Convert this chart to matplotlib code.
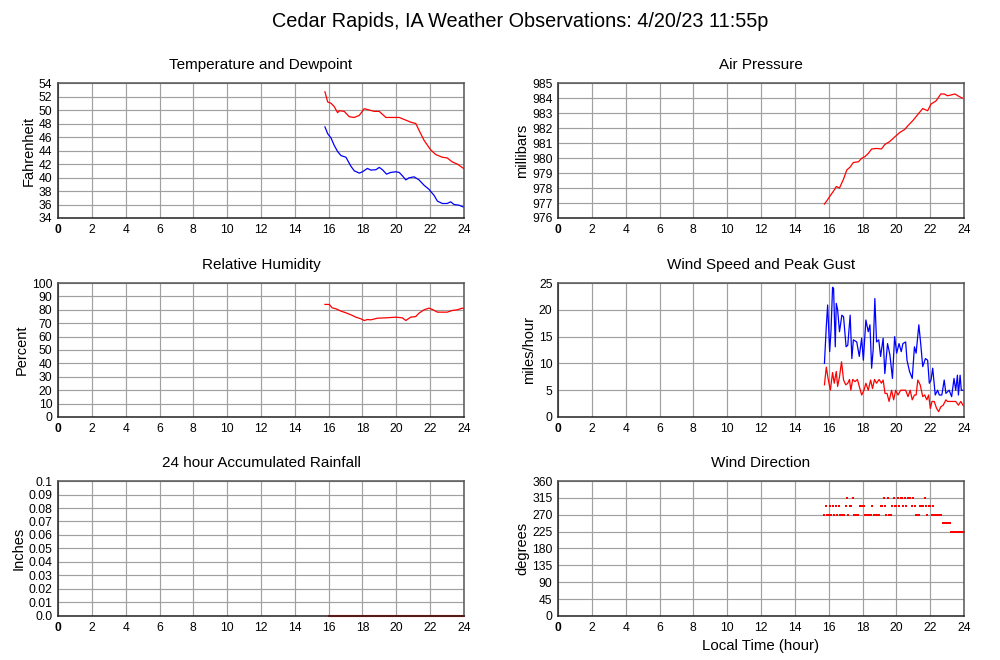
import numpy as np
import matplotlib
matplotlib.use("Agg")
import matplotlib.pyplot as plt

plt.rcParams['font.family'] = ['Liberation Sans', 'DejaVu Sans']

# ---------------- data ----------------
temp_hours = [15.78, 15.94, 16.14, 16.33, 16.53, 16.63, 16.92, 17.22, 17.51, 17.81, 18.10, 18.40,
              18.69, 18.99, 19.38, 19.77, 20.17, 20.56, 20.85, 21.15, 21.34, 21.64, 22.03, 22.33,
              22.72, 23.01, 23.31, 23.60, 24.0]
temp_f = [52.7, 51.2, 51.0, 50.5, 49.6, 49.9, 49.8, 49.0, 48.9, 49.2, 50.2, 50.0,
          49.8, 49.8, 48.9, 48.9, 48.9, 48.5, 48.2, 48.0, 47.0, 45.5, 44.1, 43.4,
          43.0, 42.9, 42.3, 42.0, 41.3]

dew_hours = [15.78, 15.94, 16.14, 16.33, 16.53, 16.73, 17.02, 17.32, 17.51, 17.81, 18.00, 18.29,
             18.49, 18.79, 18.99, 19.18, 19.42, 19.67, 19.97, 20.17, 20.36, 20.56, 20.75, 21.05,
             21.34, 21.64, 21.93, 22.23, 22.43, 22.72, 23.01, 23.21, 23.41, 23.70, 24.0]
dew_f = [47.5, 46.5, 45.85, 44.75, 43.85, 43.25, 43.0, 41.65, 41.0, 40.65, 40.85, 41.35,
         41.1, 41.15, 41.5, 41.15, 40.5, 40.75, 40.85, 40.75, 40.25, 39.65, 39.95, 40.1,
         39.65, 38.85, 38.25, 37.35, 36.5, 36.15, 36.15, 36.4, 36.0, 35.9, 35.6]

pres_hours = [15.75, 15.90, 16.10, 16.29, 16.45, 16.64, 16.88, 17.07, 17.27, 17.46, 17.76, 17.95,
              18.15, 18.34, 18.54, 18.83, 19.12, 19.32, 19.61, 19.90, 20.20, 20.49, 20.68, 20.98,
              21.27, 21.56, 21.85, 22.05, 22.34, 22.63, 22.83, 23.02, 23.22, 23.47, 23.71, 23.90]
pres_mb = [976.93, 977.16, 977.5, 977.8, 978.1, 978.0, 978.6, 979.2, 979.4, 979.7, 979.75, 979.98,
           980.1, 980.3, 980.6, 980.64, 980.6, 980.9, 981.1, 981.4, 981.7, 981.9, 982.15, 982.5,
           982.9, 983.3, 983.15, 983.6, 983.8, 984.27, 984.27, 984.15, 984.2, 984.27, 984.1, 984.0]

rh_hours = [15.78, 16.04, 16.20, 16.43, 16.73, 17.02, 17.32, 17.61, 17.91, 18.10, 18.29, 18.49,
            18.89, 19.38, 19.97, 20.36, 20.56, 20.85, 21.15, 21.34, 21.64, 21.93, 22.13, 22.43,
            22.72, 23.01, 23.31, 23.60, 23.90, 24.0]
rh_pct = [84, 84, 81.5, 80.75, 79, 77.75, 76.25, 74.5, 73.25, 72, 72.75, 72.5,
          73.75, 74, 74.5, 74, 72, 74.5, 75, 77.5, 80, 81.25, 80.25, 78.25,
          78.25, 78.25, 79.5, 80, 81.25, 80.75]

gust_hours = [15.75, 15.86, 15.94, 16.06, 16.14, 16.23, 16.29, 16.39, 16.45, 16.53, 16.64, 16.78,
              16.88, 17.03, 17.13, 17.27, 17.37, 17.46, 17.66, 17.81, 17.95, 18.05, 18.20, 18.34,
              18.44, 18.54, 18.63, 18.73, 18.83, 18.96, 19.07, 19.22, 19.32, 19.48, 19.62, 19.77,
              19.90, 20.02, 20.16, 20.29, 20.39, 20.55, 20.63, 20.78, 20.94, 21.07, 21.17, 21.33,
              21.44, 21.56, 21.72, 21.85, 21.95, 22.05, 22.15, 22.30, 22.44, 22.54, 22.69, 22.83,
              22.93, 23.12, 23.27, 23.41, 23.51, 23.61, 23.67, 23.77, 23.84, 23.96]
gust_mph = [10, 16.9, 20.9, 12.2, 16.2, 24.2, 24, 13.1, 21.2, 20, 15.9, 19,
            18.7, 13.1, 13.4, 19, 10.9, 14.4, 14, 11.3, 14.7, 10.6, 18.1, 15.9,
            17.2, 9.1, 12.5, 22.1, 14, 14.4, 11.3, 14.7, 8.1, 13.7, 11.6, 7.2,
            15, 11.9, 13.7, 12.2, 13.7, 14.0, 10.6, 8.5, 7.2, 13.1, 11.9, 17.2,
            13.7, 9.4, 10.9, 10.6, 6.3, 6.9, 9.1, 4.1, 5, 4.1, 4.1, 6.9,
            4.4, 5, 3.8, 7.2, 5, 7.8, 4.1, 7.8, 5, 5]

speed_hours = [15.75, 15.86, 15.98, 16.10, 16.23, 16.33, 16.45, 16.53, 16.64, 16.76, 16.88, 17.01,
               17.13, 17.23, 17.31, 17.42, 17.56, 17.70, 17.81, 17.95, 18.09, 18.20, 18.34, 18.48,
               18.59, 18.71, 18.83, 18.98, 19.12, 19.22, 19.33, 19.45, 19.57, 19.72, 19.84, 19.96,
               20.10, 20.26, 20.41, 20.55, 20.69, 20.82, 20.94, 21.07, 21.17, 21.27, 21.41, 21.56,
               21.68, 21.80, 21.91, 22.01, 22.11, 22.24, 22.38, 22.50, 22.63, 22.77, 22.93, 23.02,
               23.22, 23.51, 23.67, 23.81, 23.96]
speed_mph = [6, 9.3, 6.9, 5, 8.3, 6.3, 8.5, 5.7, 7.5, 10.3, 6.9, 6,
             6.3, 7, 5, 7, 6.6, 7, 5.7, 4.1, 5, 6.3, 5, 6.9,
             5.3, 7, 6.3, 7, 6.3, 6.9, 4.4, 4.4, 2.9, 5, 3.2, 5,
             4.1, 5, 5, 5, 3.8, 5, 3.2, 4.1, 4.1, 6.9, 6, 3.8,
             4.1, 3.2, 4.1, 1.6, 2.9, 2.9, 1.6, 1.0, 1.9, 2.2, 3.2, 2.9,
             2.9, 2.9, 2.2, 2.9, 2.1]

# wind direction: one reading every 5 minutes from 15:45 to 24:00
dir_hours = 15.75 + np.arange(100) / 12.0
dir_deg = [270, 292.5, 270, 270, 292.5, 270, 292.5, 270, 292.5, 270,
           292.5, 270, 270, 270, 270, 292.5, 315, 270, 292.5, 292.5,
           315, 270, 270, 270, 270, 292.5, 292.5, 292.5, 292.5, 270,
           270, 270, 270, 270, 292.5, 270, 270, 270, 270, 270,
           292.5, 292.5, 315, 292.5, 270, 315, 270, 270, 292.5, 315,
           292.5, 292.5, 315, 292.5, 315, 315, 292.5, 315, 292.5, 315,
           315, 315, 292.5, 315, 292.5, 270, 270, 270, 292.5, 292.5,
           292.5, 315, 292.5, 270, 292.5, 292.5, 270, 292.5, 270, 270,
           270, 270, 270, 270, 247.5, 247.5, 247.5, 247.5, 247.5, 247.5,
           225, 225, 225, 225, 225, 225, 225, 225, 225, 225]

rain_hours = [16.0, 24.0]
rain_in = [0.0, 0.0]

x_ticks = list(range(0, 25, 2))

# ---------------- figure ----------------
fig = plt.figure(figsize=(10, 6.6), dpi=100)
fig.text(0.52, 0.968, "Cedar Rapids, IA Weather Observations: 4/20/23 11:55p",
         ha='center', va='center', fontsize=14.3)

left_l, left_r, w = 0.058, 0.558, 0.406
rows = [(0.6697, 0.2045), (0.3682, 0.2030), (0.0667, 0.2045)]

def make_ax(col, row, title, ylabel, yticks, ylabels):
    x0 = left_l if col == 0 else left_r
    b, h = rows[row]
    ax = fig.add_axes([x0, b, w, h])
    ax.set_xlim(0, 24)
    ax.set_ylim(yticks[0], yticks[-1])
    ax.set_xticks(x_ticks)
    ax.set_xticklabels([str(t) for t in x_ticks])
    ax.get_xticklabels()[0].set_fontweight('bold')
    ax.set_yticks(yticks)
    ax.set_yticklabels(ylabels)
    ax.tick_params(axis='both', length=0, labelsize=8.7, colors='black', pad=4)
    ax.grid(True, color='#a0a0a0', linewidth=0.85)
    ax.set_axisbelow(True)
    for name, s in ax.spines.items():
        s.set_color('#222222' if name in ('left', 'bottom') else '#555555')
        s.set_linewidth(1.1)
    ax.set_title(title, fontsize=11, pad=10)
    ax.set_ylabel(ylabel, fontsize=10.5, labelpad=2)
    return ax

# Temperature
yt = list(range(34, 55, 2))
ax1 = make_ax(0, 0, "Temperature and Dewpoint", "Fahrenheit", yt, [str(v) for v in yt])
ax1.plot(temp_hours, temp_f, color='red', lw=0.9)
ax1.plot(dew_hours, dew_f, color='blue', lw=0.9)

# Pressure
yt = list(range(976, 986))
ax2 = make_ax(1, 0, "Air Pressure", "millibars", yt, [str(v) for v in yt])
ax2.plot(pres_hours, pres_mb, color='red', lw=0.9)

# RH
yt = list(range(0, 101, 10))
ax3 = make_ax(0, 1, "Relative Humidity", "Percent", yt, [str(v) for v in yt])
ax3.plot(rh_hours, rh_pct, color='red', lw=0.9)

# Wind speed
yt = list(range(0, 26, 5))
ax4 = make_ax(1, 1, "Wind Speed and Peak Gust", "miles/hour", yt, [str(v) for v in yt])
ax4.plot(gust_hours, gust_mph, color='blue', lw=0.9)
ax4.plot(speed_hours, speed_mph, color='red', lw=0.9)

# Rain
yt = [round(v * 0.01, 2) for v in range(0, 11)]
rain_labels = ["0.0"] + ["%.2f" % v for v in yt[1:-1]] + ["0.1"]
ax5 = make_ax(0, 2, "24 hour Accumulated Rainfall", "Inches", yt, rain_labels)
ax5.plot(rain_hours, rain_in, color='red', lw=1.5, clip_on=False)

# Wind direction
yt = list(range(0, 361, 45))
ax6 = make_ax(1, 2, "Wind Direction", "degrees", yt, [str(v) for v in yt])
ax6.plot(dir_hours, dir_deg, linestyle='none', marker='s', markersize=2.0,
         color='red', markeredgewidth=0)
ax6.set_xlabel("Local Time (hour)", fontsize=10.8, labelpad=4)

fig.savefig("out.png", dpi=100)
